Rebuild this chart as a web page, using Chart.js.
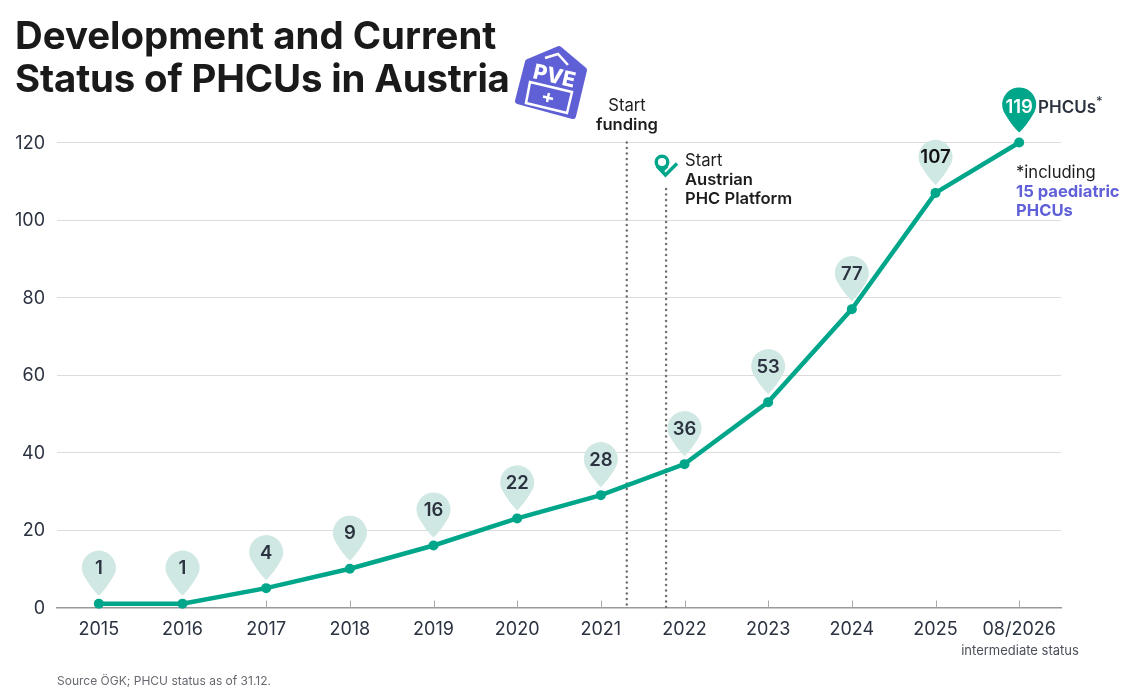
<!DOCTYPE html>
<html>
<head>
<meta charset="utf-8">
<title>Development and Current Status of PHCUs in Austria</title>
<script src="https://cdn.jsdelivr.net/npm/chart.js@4"></script>
<style>
  html, body { margin: 0; padding: 0; background: #fff; overflow: hidden; }
  body { position: relative; width: 1134px; height: 695px; font-family: Inter, sans-serif; color: #1d1d1f; }
  canvas { position: absolute; left: 0; top: 0; }
  .t { position: absolute; white-space: nowrap; }
  h1 { position: absolute; left: 15px; top: 14px; margin: 0; font-size: 38.4px; line-height: 43px; font-weight: 700; color: #1a1a1a; }
  h1 span { letter-spacing: -0.16px; }
  .note { font-size: 16.6px; line-height: 19px; }
  b { font-weight: 600; }
  svg { position: absolute; left: 0; top: 0; }
</style>
</head>
<body>
<canvas id="chart" width="1134" height="695"></canvas>
<svg width="1134" height="695">
  <!-- PVE badge -->
  <polygon points="559,49 584,70 573,116 518,101 528,62" fill="#5f5fd6" stroke="#5f5fd6" stroke-width="6" stroke-linejoin="round"/>
  <polyline points="545,58 558,54 568,65" fill="none" stroke="#fff" stroke-width="2.5"/>
  <text x="0" y="0" transform="translate(532,78) rotate(13)" fill="#fff" font-family="Inter" font-weight="800" font-size="21">PVE</text>
  <polygon points="530,82 572,92 567,113 526,103" fill="none" stroke="#fff" stroke-width="2.5"/>
  <path d="M543,96.5 L553,99 M549,93 L547,102" stroke="#fff" stroke-width="2.5"/>
  <!-- platform logo -->
  <circle cx="662" cy="162" r="5.8" fill="none" stroke="#00a68a" stroke-width="3.4"/>
  <path d="M657,166 L665.5,175 L677,163.5" fill="none" stroke="#00a68a" stroke-width="3.4"/>
  <path d="M667,166 L662,171" fill="none" stroke="#00a68a" stroke-width="3.4"/>
</svg>
<h1>Development and Current<br><span>Status of PHCUs in Austria</span></h1>
<div class="t note" style="left:577px;width:100px;text-align:center;top:96px">Start<br><b>funding</b></div>
<div class="t note" style="left:685px;top:151px">Start<br><b>Austrian<br>PHC Platform</b></div>
<div class="t" style="left:1038px;top:97px;font-size:17px;font-weight:600;color:#2b3240">PHCUs<sup style="font-size:13px;font-weight:400;line-height:0">*</sup></div>
<div class="t note" style="left:1016px;top:163px">*including<br><b style="color:#6060d8;font-weight:700">15 paediatric<br>PHCUs</b></div>
<div class="t" style="left:920px;width:200px;text-align:center;top:642px;font-size:13px;color:#4a4f5a">intermediate status</div>
<div class="t" style="left:57px;top:673px;font-size:12px;color:#666a70">Source ÖGK; PHCU status as of 31.12.</div>
<script>
const years = ['2015', '2016', '2017', '2018', '2019', '2020', '2021', '2022', '2023', '2024', '2025', '08/2026'];
const values = [1, 1, 5, 10, 16, 23, 29, 37, 53, 77, 107, 120];
const pinLabels = ['1', '1', '4', '9', '16', '22', '28', '36', '53', '77', '107', '119'];
const yTicks = [0, 20, 40, 60, 80, 100, 120];

const GREEN = '#00a68a';
const PIN = '#d0e8e3';

// pin with the tip just above the point
function drawPin(ctx, x, y, r, fill) {
  const cy = y - 36;
  const tip = y - 8;
  ctx.beginPath();
  ctx.arc(x, cy, r, Math.PI * 0.85, Math.PI * 0.15);
  ctx.quadraticCurveTo(x + r * 0.45, tip - 7, x, tip);
  ctx.quadraticCurveTo(x - r * 0.45, tip - 7, x - r * Math.cos(Math.PI * 0.15), cy + r * Math.sin(Math.PI * 0.15));
  ctx.closePath();
  ctx.fillStyle = fill;
  ctx.fill();
}

function dotted(ctx, x, top, bottom) {
  ctx.save();
  ctx.strokeStyle = '#707070';
  ctx.lineWidth = 2.5;
  ctx.lineCap = 'round';
  ctx.setLineDash([0, 5.5]);
  ctx.beginPath();
  ctx.moveTo(x, top);
  ctx.lineTo(x, bottom);
  ctx.stroke();
  ctx.restore();
}

const extras = {
  id: 'extras',
  beforeDatasetsDraw(chart) {
    const { ctx, scales: { x, y } } = chart;
    // small ticks stand inside the plot
    ctx.save();
    ctx.strokeStyle = '#aaa';
    ctx.lineWidth = 1;
    years.forEach((_, i) => {
      const px = Math.round(x.getPixelForValue(i)) + 0.5;
      ctx.beginPath();
      ctx.moveTo(px, y.bottom - 7);
      ctx.lineTo(px, y.bottom);
      ctx.stroke();
    });
    ctx.restore();
    dotted(ctx, x.getPixelForValue(6.31), y.top, y.bottom);
    dotted(ctx, x.getPixelForValue(6.78), y.getPixelForValue(108), y.bottom);
  },
  afterDatasetsDraw(chart) {
    const { ctx, scales: { x, y } } = chart;
    ctx.save();
    ctx.textAlign = 'center';
    ctx.textBaseline = 'middle';
    ctx.font = '600 18.5px Inter';
    values.forEach((v, i) => {
      const px = x.getPixelForValue(i);
      const py = y.getPixelForValue(v);
      const last = i === values.length - 1;
      drawPin(ctx, px, py - (last ? 2 : 0), 17, last ? GREEN : PIN);
      ctx.fillStyle = last ? '#fff' : (i === 10 ? '#111' : '#2b3240');
      ctx.fillText(pinLabels[i], px, py - 35);
    });
    ctx.restore();
  }
};

new Chart(document.getElementById('chart'), {
  type: 'line',
  data: {
    labels: years,
    datasets: [{
      data: values,
      borderColor: GREEN,
      backgroundColor: GREEN,
      borderWidth: 4.5,
      pointRadius: 5,
      pointBorderWidth: 0,
      pointHoverRadius: 5,
      tension: 0,
      clip: false
    }]
  },
  options: {
    responsive: false,
    animation: false,
    layout: { padding: { top: 142.5, right: 73, left: 0, bottom: 0 } },
    plugins: { legend: { display: false }, tooltip: { enabled: false } },
    scales: {
      x: {
        offset: true,
        afterFit(scale) { scale.height = 87.5; },
        grid: { display: false },
        border: { color: '#999', width: 1.5 },
        ticks: { color: '#2b3240', font: { family: 'Inter', size: 18 }, padding: 3, maxRotation: 0, autoSkip: false }
      },
      y: {
        min: 0,
        max: 120,
        afterFit(scale) { scale.width = 57; },
        afterBuildTicks(scale) { scale.ticks = yTicks.map(value => ({ value })); },
        grid: { color: '#dcdcdc', drawTicks: false },
        border: { display: false },
        ticks: { color: '#2b3240', font: { family: 'Inter', size: 18 }, padding: 12, labelOffset: 1 }
      }
    }
  },
  plugins: [extras]
});
</script>
</body>
</html>
